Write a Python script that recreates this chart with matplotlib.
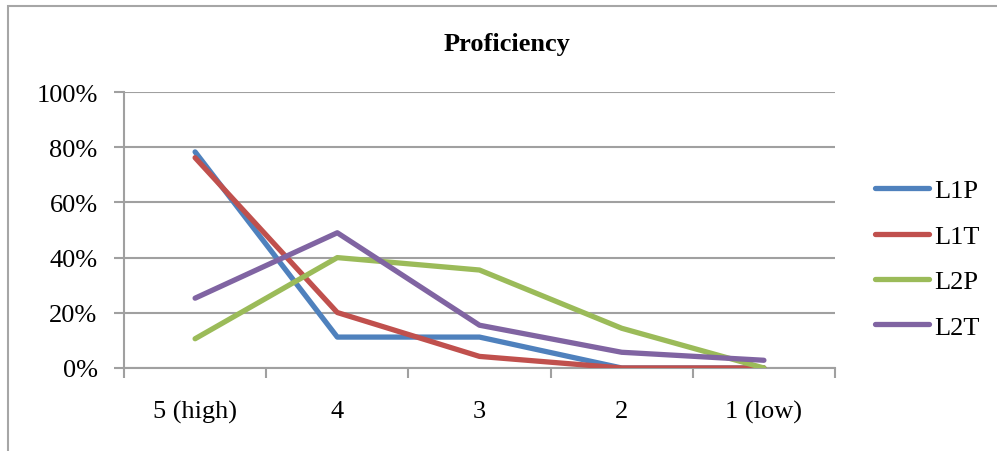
import matplotlib
matplotlib.use("Agg")
import matplotlib.pyplot as plt
from matplotlib.patches import Rectangle

categories = ["5 (high)", "4", "3", "2", "1 (low)"]
series_names = ["L1P", "L1T", "L2P", "L2T"]
L1P = [78.3, 11.2, 11.2, 0.0, 0.0]
L1T = [76.2, 20.1, 4.2, 0.0, 0.0]
L2P = [10.6, 40.0, 35.5, 14.4, 0.0]
L2T = [25.3, 49.0, 15.5, 5.7, 2.8]
colors = ["#4F81BD", "#C0504D", "#9BBB59", "#8064A2"]
yticks = [0, 20, 40, 60, 80, 100]
ytick_labels = ["0%", "20%", "40%", "60%", "80%", "100%"]

plt.rcParams['font.family'] = ['Liberation Serif', 'DejaVu Serif']

fig = plt.figure(figsize=(9.97, 4.52), dpi=100)
W, H = 997, 452
ax = fig.add_axes([124 / W, (H - 369) / H, (835 - 124) / W, (369 - 93) / H])

# outer chart border
fig.patches.append(Rectangle((8 / W, -0.1), 1.2, (H - 7) / H + 0.1, transform=fig.transFigure,
                             fill=False, edgecolor="#A6A6A6", linewidth=1.5))

grid_c = "#A0A0A0"
x = list(range(len(categories)))
for name, vals, c in zip(series_names, [L1P, L1T, L2P, L2T], colors):
    ax.plot(x, vals, color=c, linewidth=3.8, solid_capstyle="round", solid_joinstyle="round",
            label=name, zorder=3)

ax.set_xlim(-0.5, len(categories) - 0.5)
ax.set_ylim(0, 100)
ax.set_yticks(yticks)
ax.set_yticklabels(ytick_labels, fontsize=19)
ax.yaxis.grid(True, color=grid_c, linewidth=1.5)
ax.set_axisbelow(True)

ax.set_xticks([i - 0.5 for i in range(len(categories) + 1)])
ax.set_xticklabels([])
ax.set_xticks(x, minor=True)
ax.set_xticklabels(categories, minor=True, fontsize=19)
ax.tick_params(axis="x", which="major", length=7, width=1.5, color=grid_c, direction="out")
ax.tick_params(axis="x", which="minor", length=0, pad=23)
ax.tick_params(axis="y", length=7, width=1.5, color=grid_c, direction="out", pad=12)

for s in ["top", "right"]:
    ax.spines[s].set_visible(False)
for s in ["left", "bottom"]:
    ax.spines[s].set_color(grid_c)
    ax.spines[s].set_linewidth(1.5)

fig.text(507 / W, (H - 45) / H, "Proficiency", ha="center", va="center", fontsize=19,
         fontweight="bold")

ax.legend(loc="upper left", bbox_to_anchor=(875 / W, (H - 180) / H), bbox_transform=fig.transFigure,
          frameon=False, fontsize=19, handlelength=2.05, handletextpad=0.2, labelspacing=0.83,
          borderaxespad=0, borderpad=0)

fig.savefig("out.png", dpi=100)
